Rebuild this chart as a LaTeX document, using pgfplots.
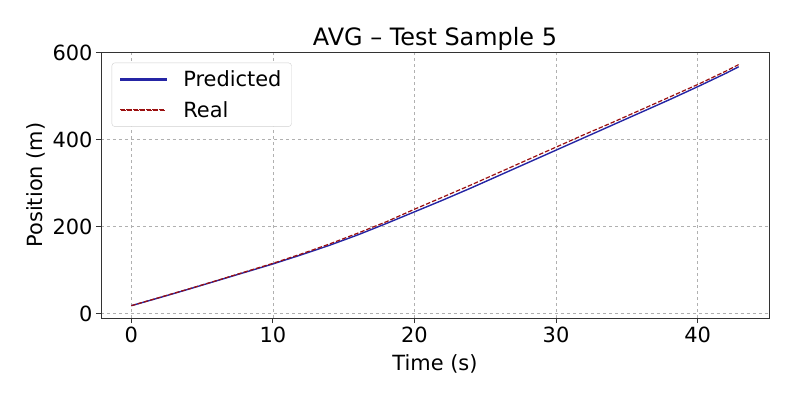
\documentclass[border=0pt]{standalone}
\usepackage{fontspec}
\setmainfont{DejaVu Sans}
\usepackage{pgfplots}
\pgfplotsset{compat=1.18}
\definecolor{predc}{HTML}{2525A5}
\definecolor{realc}{HTML}{9B1010}
\definecolor{gridc}{HTML}{B0B0B0}
\begin{document}
\begin{tikzpicture}
\path[use as bounding box] (-101bp,-79bp) rectangle (692bp,318bp);
\begin{axis}[
  at={(0,0)}, anchor=south west,
  scale only axis,
  width=668bp, height=266bp,
  xmin=-2.145, xmax=45.045,
  ymin=-10.4, ymax=602,
  xtick={0,10,20,30,40},
  ytick={0,200,400,600},
  tick align=outside,
  tick pos=left,
  major tick length=5bp,
  axis line style={black!80, line width=0.9bp},
  major tick style={black!80, line width=0.9bp},
  grid=major,
  major grid style={gridc, dashed, line width=0.8bp},
  /pgf/number format/assume math mode=true,
  tick label style={font=\fontsize{21}{25}\selectfont},
  label style={font=\fontsize{21}{25}\selectfont},
  xlabel style={yshift=-5bp},
  title style={font=\fontsize{24}{28}\selectfont, yshift=-8bp},
  title={AVG – Test Sample 5},
  xlabel={Time (s)},
  ylabel={Position (m)},
  legend cell align=left,
  legend style={at={(0.016,0.96)}, anchor=north west,
    font=\fontsize{21}{25}\selectfont,
    draw=gridc!60, rounded corners=3bp, fill=white,
    inner xsep=8bp, inner ysep=6bp, row sep=9bp},
]
\addplot[predc, line width=1.4bp,
  legend image code/.code={%
    \fill[predc, sharp corners] (0bp,-0.7bp) rectangle (46bp,0.7bp);
    \path (60bp,0bp);}]
coordinates {
(0,18) (2,36.5) (4,55.5) (6,75) (8,94.5) (10,114) (12,135) (14,157)
(16,181) (18,207) (20,234) (22,261) (24,289) (26,318) (28,347)
(30,376) (32,405) (34,434) (36,463) (38,492) (40,522) (42,553) (42.9,568)
};
\addlegendentry{Predicted}
\addplot[realc, line width=1.2bp, dash pattern=on 4.5bp off 2bp,
  legend image code/.code={%
    \foreach \k in {0,...,6} {\fill[realc, sharp corners] (\k*6.5bp,-0.6bp) rectangle ++(4.5bp,1.2bp);}
    \path (60bp,0bp);}]
coordinates {
(0,18) (2,37) (4,56) (6,75.5) (8,95.5) (10,115.5) (12,137) (14,160)
(16,185) (18,211) (20,240) (22,268) (24,296) (26,325) (28,354)
(30,383) (32,412) (34,440) (36,469) (38,498) (40,527) (42,558) (42.9,573)
};
\addlegendentry{Real}
\end{axis}
\end{tikzpicture}
\end{document}
